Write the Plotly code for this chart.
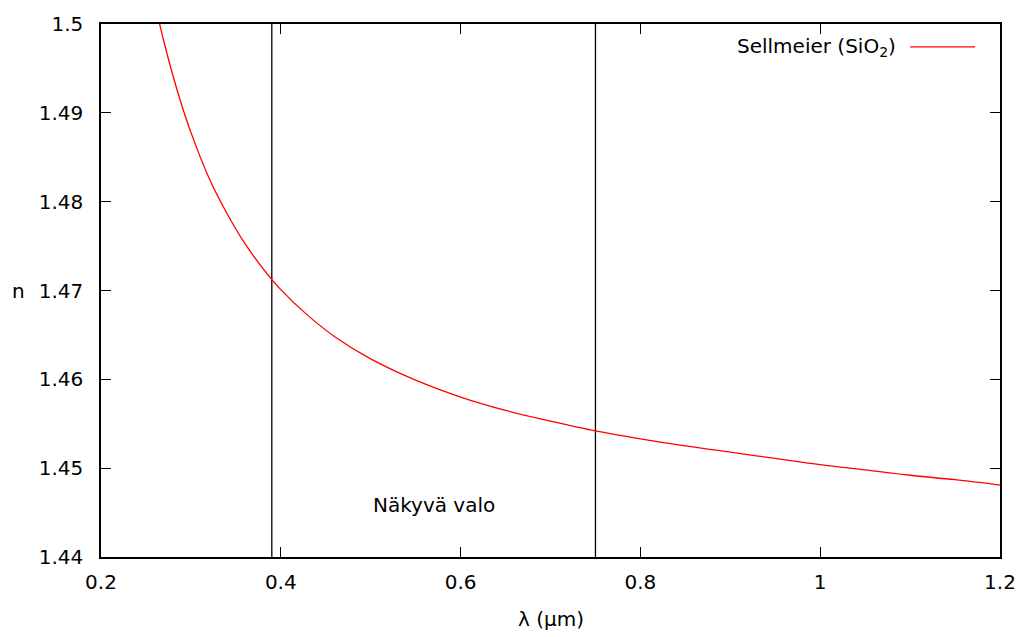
import plotly.graph_objects as go

# Sellmeier curve
wavelength_um = [0.265, 0.27, 0.28, 0.29, 0.30, 0.32, 0.34, 0.36, 0.38, 0.40, 0.43,
                 0.46, 0.50, 0.55, 0.60, 0.65, 0.70, 0.75, 0.80, 0.85, 0.90, 0.95,
                 1.00, 1.05, 1.10, 1.15, 1.20]
refr_index = [1.5001, 1.4980, 1.4942, 1.4908, 1.4878, 1.4827, 1.4787, 1.4753, 1.4725,
              1.4701, 1.4672, 1.4648, 1.4623, 1.4599, 1.4580, 1.4565, 1.4553, 1.4542,
              1.4533, 1.4525, 1.4518, 1.4511, 1.4504, 1.4498, 1.4492, 1.4487, 1.4481]

visible_bounds = [0.39, 0.75]
x_ticks = [0.2, 0.4, 0.6, 0.8, 1.0, 1.2]
y_ticks = [1.44, 1.45, 1.46, 1.47, 1.48, 1.49, 1.5]
series_name = "Sellmeier (SiO<sub>2</sub>)"
label_text = "Näkyvä valo"
label_pos = (0.57, 1.4459)

FONT = "DejaVu Sans"
FS = 20
L, R, T, B = 101, 26, 21, 80
PW, PH = 1028 - L - R, 637 - T - B

def px_x(px):
    return (px - L) / PW

def px_y(py):
    return 1 - (py - T) / PH

fig = go.Figure()

for xb in visible_bounds:
    fig.add_trace(go.Scatter(x=[xb, xb], y=[y_ticks[0], y_ticks[-1]], mode="lines",
                             line=dict(color="black", width=1.3), showlegend=False,
                             hoverinfo="skip"))

fig.add_trace(go.Scatter(x=wavelength_um, y=refr_index, mode="lines",
                         line=dict(color="#ff0000", width=1.3, shape="spline"),
                         showlegend=False, name="Sellmeier"))

fig.add_annotation(x=label_pos[0], y=label_pos[1], xref="x", yref="y", text=label_text,
                   showarrow=False, font=dict(family=FONT, size=FS, color="black"))

# gnuplot-style legend: text, then line sample
fig.add_annotation(x=px_x(900), y=px_y(44), xref="paper", yref="paper",
                   text=series_name, showarrow=False, xanchor="right", yanchor="middle",
                   font=dict(family=FONT, size=FS, color="black"))
fig.add_shape(type="line", xref="paper", yref="paper",
              x0=px_x(912), x1=px_x(977), y0=px_y(44), y1=px_y(44),
              line=dict(color="#ff0000", width=1.3))

# axis titles (gnuplot keeps "n" horizontal)
fig.add_annotation(x=px_x(18), y=px_y(290), xref="paper", yref="paper", text="n",
                   showarrow=False, xanchor="center", yanchor="middle",
                   font=dict(family=FONT, size=FS, color="black"))
fig.add_annotation(x=px_x(552), y=px_y(619), xref="paper", yref="paper", text="λ (µm)",
                   showarrow=False, xanchor="center", yanchor="middle",
                   font=dict(family=FONT, size=FS, color="black"))

axis_common = dict(showline=True, linecolor="black", linewidth=1.5, mirror="ticks",
                   ticks="inside", ticklen=10, tickwidth=1.3, tickcolor="black",
                   showgrid=False, zeroline=False,
                   tickfont=dict(family=FONT, size=FS, color="black"))

fig.update_xaxes(range=[0.2, 1.2], tickvals=x_ticks, ticklabelstandoff=6, **axis_common)
fig.update_yaxes(range=[1.44, 1.5], tickvals=y_ticks, ticklabelstandoff=12, **axis_common)

fig.update_layout(width=1028, height=637, margin=dict(l=L, r=R, t=T, b=B),
                  plot_bgcolor="white", paper_bgcolor="white",
                  font=dict(family=FONT, size=FS, color="black"))

fig.write_html("out.html")
